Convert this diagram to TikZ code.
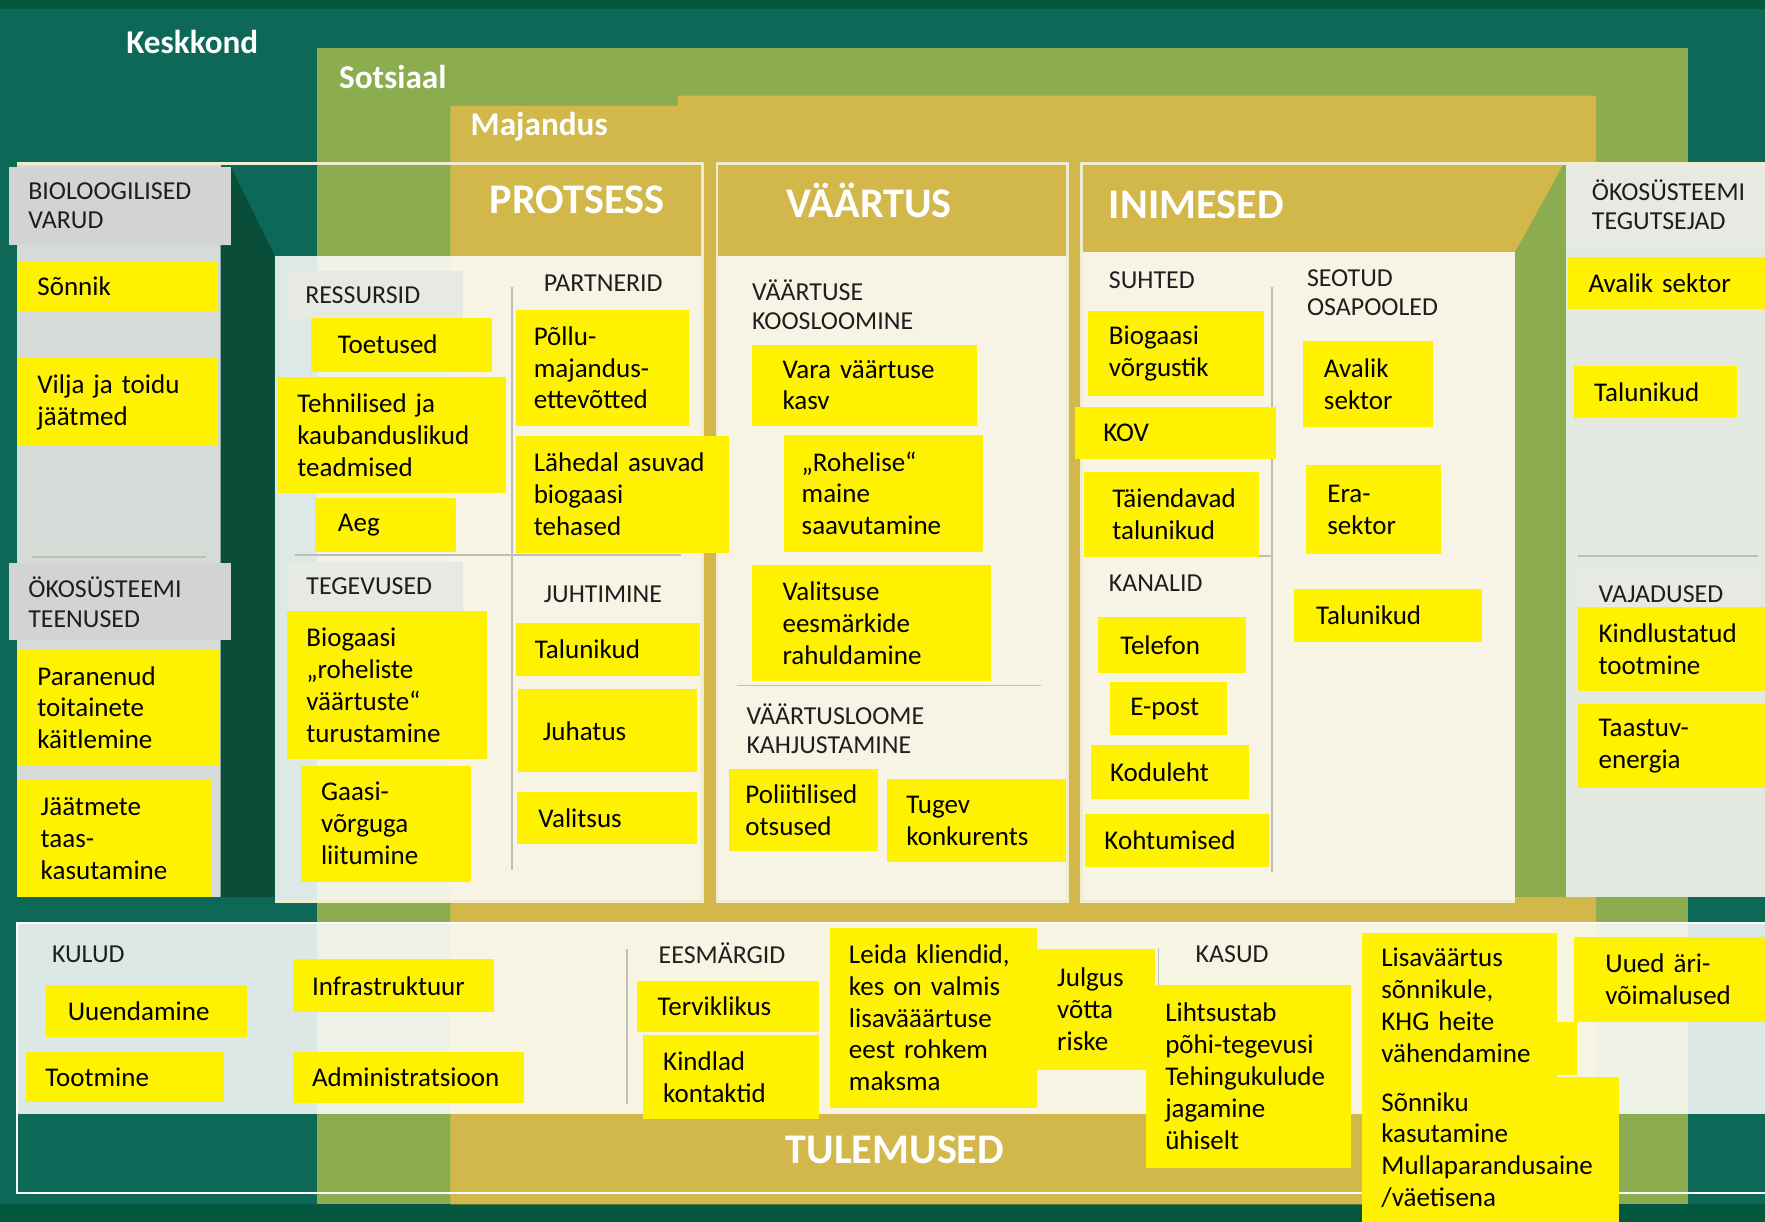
\documentclass[tikz,border=0pt]{standalone}
\usepackage{fontspec}
\setmainfont{Carlito}
\usetikzlibrary{positioning}
\hyphenpenalty=10000
\exhyphenpenalty=10000
\definecolor{keskkond}{RGB}{14,104,88}
\definecolor{keskdark}{RGB}{5,88,64}
\definecolor{sotsiaal}{RGB}{139,173,80}
\definecolor{majandus}{RGB}{210,183,74}
\definecolor{strip}{RGB}{10,78,58}
\definecolor{leftpanel}{RGB}{215,219,216}
\definecolor{rightpanel}{RGB}{228,233,226}
\definecolor{hdrgrey}{RGB}{209,212,210}
\definecolor{hdrlight}{RGB}{231,234,226}
\definecolor{framec}{RGB}{240,236,208}
\definecolor{divc}{RGB}{190,190,182}
\definecolor{ink}{RGB}{30,30,30}

% name, x1, y1, x2, y2, text x, text
\newcommand{\ynote}[7]{%
  \pgfmathsetmacro\ywd{#4-#2}%
  \pgfmathsetmacro\yht{#5-#3}%
  \pgfmathsetmacro\ypad{#6-#2}%
  \pgfmathsetmacro\ytw{\ywd-2*\ypad}%
  \node[ybox, inner xsep=\ypad pt, text width=\ytw pt, minimum height=\yht pt] (#1) at (#2,#3) {#7};}

\begin{document}
\begin{tikzpicture}[x=1pt,y=-1pt,
                    ybox/.style={fill=yellow, anchor=north west, align=left, inner ysep=0pt,
                                 text=black, font=\fontsize{24}{28.3}\selectfont},
                    subhead/.style={anchor=west, align=left, inner sep=0pt, text=ink,
                                    font=\fontsize{23}{26}\selectfont},
                    layertext/.style={anchor=base west, inner sep=0pt, text=white,
                                      font=\fontsize{29.5}{32}\selectfont\bfseries},
                    coltitle/.style={anchor=base, inner sep=0pt, text=white,
                                     font=\fontsize{37.5}{40}\selectfont\bfseries}]
  \tikzstyle{colframe}=[draw=framec, line width=2.5pt]
  \tikzstyle{divider}=[draw=divc, line width=1.3pt]

  \useasboundingbox (0,0) rectangle (1568,1085.6);
  \fill[keskkond] (0,0) rectangle (1568,1085.6);
  \fill[keskdark] (0,0) rectangle (1568,8);
  \fill[keskdark] (0,1070) rectangle (1568,1085.6);
  \fill[sotsiaal] (282,43) rectangle (1500,1070);
  \fill[majandus] (400,94) -- (602,94) -- (602,85) -- (1418,85) -- (1418,1070) -- (400,1070) -- cycle;

  \node[layertext] (keskkond) at (112,47.5) {Keskkond};
  \node[layertext] (sotsiaal) at (301,79) {Sotsiaal};
  \node[layertext] (majandus) at (418,120.5) {Majandus};

  \fill[leftpanel] (15,145) rectangle (196,797);
  \fill[strip] (205,148) -- (244,227) -- (244,797) -- (196,797) -- (196,218) -- (205,218) -- cycle;
  \fill[hdrgrey] (8,148) rectangle (205,218);
  \fill[hdrgrey] (8,500) rectangle (205,569);
  \draw[divider] (28,495) -- (183,495);

  \fill[white, fill opacity=.86] (244,227) rectangle (624,800);
  \fill[white, fill opacity=.86] (637,227) rectangle (948,800);
  \fill[white, fill opacity=.86] (961,224) rectangle (1346,800);
  \fill[sotsiaal] (1346,224) -- (1389,146) -- (1391,146) -- (1391,797) -- (1346,797) -- cycle;
  \fill[rightpanel] (1391,145) rectangle (1568,797);
  \fill[hdrlight] (1391,145) rectangle (1568,217);
  \fill[hdrlight] (1402,505) rectangle (1559,550);
  \draw[divider] (1402,494) -- (1562,494);

  \draw[colframe] (15,145) -- (624,145) -- (624,801) -- (244,801);
  \draw[colframe] (637,145) rectangle (948,801);
  \draw[colframe] (1568,145) -- (961,145) -- (961,801) -- (1346,801);

  \fill[hdrlight] (255,241) rectangle (411,283);
  \fill[hdrlight] (255,499) rectangle (411,543);
  \draw[divider] (455,255) -- (455,773);
  \draw[divider] (262,493) -- (605,493);
  \draw[divider] (655,609) -- (925,609);
  \draw[divider] (1130,255) -- (1130,775);
  \draw[divider] (965,494) -- (1130,494);

  \fill[white, fill opacity=.85] (15,820) rectangle (1568,990);
  \draw[white, line width=2pt] (15,820) rectangle (1580,1060);
  \draw[divider] (557,843) -- (557,981);
  \draw[divider] (1029,842) -- (1029,875);

  \node[coltitle] (protsess) at (512.6,190) {PROTSESS};
  \node[coltitle] (vaartus) at (772,193.5) {VÄÄRTUS};
  \node[coltitle, anchor=base west] (inimesed) at (985,194) {INIMESED};
  \node[coltitle] (tulemused) at (795,1033.6) {TULEMUSED};

  \node[subhead] (varud) at (25,183) {BIOLOOGILISED\\VARUD};
  \node[subhead] (teenused) at (25,535) {ÖKOSÜSTEEMI\\TEENUSED};
  \node[subhead] (ressursid) at (271,262) {RESSURSID};
  \node[subhead] (partnerid) at (483,252) {PARTNERID};
  \node[subhead] (tegevused) at (272,521) {TEGEVUSED};
  \node[subhead] (juhtimine) at (483,528) {JUHTIMINE};
  \node[subhead] (koosloomine) at (668,271) {VÄÄRTUSE\\KOOSLOOMINE};
  \node[subhead] (kahjustamine) at (663,647.5) {VÄÄRTUSLOOME\\KAHJUSTAMINE};
  \node[subhead] (suhted) at (985,249) {SUHTED};
  \node[subhead] (osapooled) at (1161,260) {SEOTUD\\OSAPOOLED};
  \node[subhead] (kanalid) at (985,518.5) {KANALID};
  \node[subhead] (tegutsejad) at (1414,182) {ÖKOSÜSTEEMI\\TEGUTSEJAD};
  \node[subhead] (vajadused) at (1420,528) {VAJADUSED};
  \node[subhead] (kulud) at (46,848) {KULUD};
  \node[subhead] (eesmargid) at (585,847) {EESMÄRGID};
  \node[subhead] (kasud) at (1062,848) {KASUD};

  \ynote{sonnik}{15}{232}{193}{277}{33}{Sõnnik}
  \ynote{vilja}{15}{318}{193}{396}{33}{Vilja ja toidu\\jäätmed}
  \ynote{paranenud}{15}{577}{194}{680}{33}{Paranenud\\toitainete\\käitlemine}
  \ynote{jaatmete}{15}{693}{188}{797}{36}{Jäätmete\\taas-\\kasutamine}

  \ynote{toetused}{276}{282}{437}{330}{300}{Toetused}
  \ynote{tehnilised}{247}{335}{449}{438}{264}{Tehnilised ja\\kaubanduslikud\\teadmised}
  \ynote{aeg}{280}{442}{405}{490}{300}{Aeg}
  \ynote{pollu}{458}{275}{612}{378}{474}{Põllu-\\majandus-\\ettevõtted}
  \ynote{lahedal}{458}{387}{647}{491}{474}{Lähedal asuvad\\biogaasi\\tehased}
  \ynote{biogaasi}{255}{543}{432}{674}{272}{Biogaasi\\„roheliste\\väärtuste“\\turustamine}
  \ynote{gaasi}{267}{680}{418}{783}{285}{Gaasi-\\võrguga\\liitumine}
  \ynote{talunikjuht}{458}{553}{622}{600}{475}{Talunikud}
  \ynote{juhatus}{460}{612}{619}{686}{482}{Juhatus}
  \ynote{valitsus}{459}{703}{619}{750}{478}{Valitsus}

  \ynote{vara}{668}{306}{868}{378}{695}{Vara väärtuse\\kasv}
  \ynote{rohelise}{696}{386}{873}{490}{712}{„Rohelise“\\maine\\saavutamine}
  \ynote{valeesm}{668}{502}{880}{605}{695}{Valitsuse\\eesmärkide\\rahuldamine}
  \ynote{poliitilised}{647}{683}{780}{756}{662}{Poliitilised\\otsused}
  \ynote{tugev}{788}{692}{947}{766}{805}{Tugev\\konkurents}

  \ynote{vorgustik}{966}{276}{1123}{352}{985}{Biogaasi\\võrgustik}
  \ynote{kov}{955}{361}{1133}{408}{980}{KOV}
  \ynote{taiendavad}{963}{419}{1118}{495}{988}{Täiendavad\\talunikud}
  \ynote{telefon}{975}{548}{1107}{598}{995}{Telefon}
  \ynote{epost}{986}{606}{1090}{653}{1004}{E-post}
  \ynote{koduleht}{969}{662}{1109}{710}{986}{Koduleht}
  \ynote{kohtumised}{964}{723}{1127}{770}{981}{Kohtumised}
  \ynote{avalik}{1157}{303}{1273}{379}{1176}{Avalik\\sektor}
  \ynote{era}{1160}{413}{1280}{492}{1179}{Era-\\sektor}
  \ynote{talunikseot}{1149}{523}{1316}{570}{1169}{Talunikud}

  \ynote{avaliktegu}{1393}{228}{1568}{274}{1411}{Avalik sektor}
  \ynote{taluniktegu}{1398}{325}{1543}{371}{1416}{Talunikud}
  \ynote{kindlustatud}{1402}{539}{1568}{614}{1420}{Kindlustatud\\tootmine}
  \ynote{taastuv}{1402}{625}{1568}{700}{1420}{Taastuv-\\energia}

  \ynote{uuendamine}{41}{875}{219}{921}{60}{Uuendamine}
  \ynote{tootmine}{23}{934}{199}{979}{40}{Tootmine}
  \ynote{infra}{260}{852}{439}{899}{277}{Infrastruktuur}
  \ynote{admin}{260}{934}{465}{980}{277}{Administratsioon}
  \ynote{terviklikus}{566}{871}{727}{917}{584}{Terviklikus}
  \ynote{kindlad}{571}{919}{727}{994}{589}{Kindlad\\kontaktid}
  \ynote{leida}{737}{824}{921}{984}{754}{Leida kliendid,\\kes on valmis\\lisavääärtuse\\eest rohkem\\maksma}
  \ynote{julgus}{920}{843}{1026}{950}{939}{Julgus\\võtta\\riske}
  \ynote{lihtsustab}{1018}{875}{1200}{1037}{1035}{Lihtsustab\\põhi-tegevusi\\Tehingukulude\\jagamine\\ühiselt}
  \fill[yellow] (1380,908) rectangle (1401,955);
  \ynote{lisavaartus}{1210}{829}{1383}{957}{1227}{Lisaväärtus\\sõnnikule,\\KHG heite\\vähendamine}
  \ynote{sonniku}{1210}{957}{1438}{1086}{1227}{Sõnniku\\kasutamine\\Mullaparandusaine\\/väetisena}
  \ynote{uued}{1398}{832}{1568}{908}{1426}{Uued äri-\\võimalused}
\end{tikzpicture}
\end{document}
